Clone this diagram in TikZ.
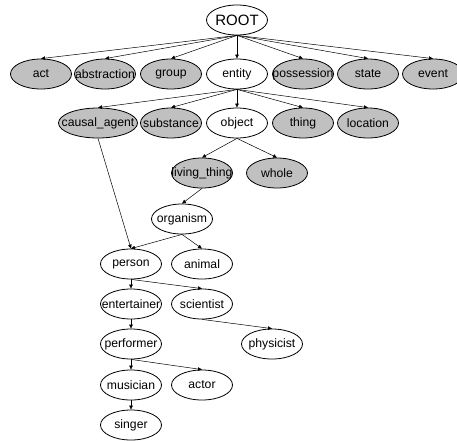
\documentclass[tikz,border=0pt]{standalone}
\usepackage{fontspec}
\setmainfont{Liberation Sans}
\usepackage{tikz}
\usetikzlibrary{positioning, shapes.geometric, arrows.meta}
\definecolor{xgrey}{RGB}{192,192,192}
\tikzset{
	arrow/.style={-{Triangle[length=4pt, width=3.5pt]}, line width=0.5pt},
	concept/.style={ellipse, draw, line width=0.8pt, minimum width=61pt, minimum height=30pt, inner xsep=-20pt, inner ysep=0pt, font=\fontsize{12.2}{14}\selectfont},
	synset/.style={concept, fill=xgrey},
}

\begin{document}
\begin{tikzpicture}[x=1pt, y=-1pt]
		\clip (0,0) rectangle (457,440);

		% Top level
		\node[concept, font=\fontsize{15}{17}\selectfont] (root) at (237,20) {ROOT};

		\node[synset] (act) at (41,74) {act};
		\node[synset] (abstraction) at (105,74) {abstraction};
		\node[synset] (group) at (171,74) {group};
		\node[concept] (entity) at (237,74) {entity};
		\node[synset] (possession) at (303,74) {possession};
		\node[synset] (state) at (368,74) {state};
		\node[synset] (event) at (433,74) {event};

		\draw[arrow] (root.south) -- (act.north);
		\draw[arrow] (root.south) -- (abstraction.north);
		\draw[arrow] (root.south) -- (group.north);
		\draw[arrow] (root.south) -- (entity.north);
		\draw[arrow] (root.south) -- (possession.north);
		\draw[arrow] (root.south) -- (state.north);
		\draw[arrow] (root.south) -- (event.north);

		% Entity
		\node[synset, minimum width=79pt] (causal) at (98,123) {causal\_agent};
		\node[synset] (substance) at (171,123) {substance};
		\node[concept] (object) at (237,123) {object};
		\node[synset] (thing) at (303,123) {thing};
		\node[synset] (location) at (368,123) {location};

		\draw[arrow] (entity.south) -- (causal.north);
		\draw[arrow] (entity.south) -- (substance.north);
		\draw[arrow] (entity.south) -- (object.north);
		\draw[arrow] (entity.south) -- (thing.north);
		\draw[arrow] (entity.south) -- (location.north);

		% Object
		\node[synset] (living) at (202,173) {living\_thing};
		\node[synset] (whole) at (277,173) {whole};

		\draw[arrow] (object.south) -- (living.north);
		\draw[arrow] (object.south) -- (whole.north);

		\node[concept] (organism) at (182,219) {organism};
		\draw[arrow] (living.south) -- (organism.north);

		% Person
		\node[concept] (person) at (131,264) {person};
		\node[concept] (animal) at (202,264) {animal};

		\draw[arrow] (organism.south) -- (person.north);
		\draw[arrow] (organism.south) -- (animal.north);
		\draw[arrow] (causal.south) -- (person.north);

		\node[concept] (entertainer) at (131,304) {entertainer};
		\node[concept] (scientist) at (202,304) {scientist};
		\node[concept] (performer) at (131,344) {performer};
		\node[concept] (physicist) at (272,344) {physicist};
		\node[concept] (musician) at (131,385) {musician};
		\node[concept] (actor) at (202,385) {actor};
		\node[concept] (singer) at (131,425) {singer};

		\draw[arrow] (person.south) -- (entertainer.north);
		\draw[arrow] (person.south) -- (scientist.north);
		\draw[arrow] (scientist.south) -- (physicist.north);
		\draw[arrow] (entertainer.south) -- (performer.north);
		\draw[arrow] (performer.south) -- (musician.north);
		\draw[arrow] (performer.south) -- (actor.north);
		\draw[arrow] (musician.south) -- (singer.north);
	\end{tikzpicture}
\end{document}
